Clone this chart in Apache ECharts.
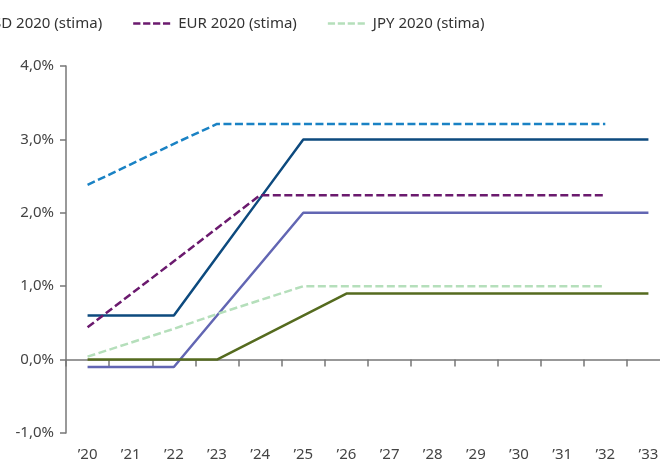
<!DOCTYPE html>
<html>
<head>
<meta charset="utf-8">
<script src="https://cdn.jsdelivr.net/npm/echarts@6/dist/echarts.min.js"></script>
<style>
  html, body { margin: 0; padding: 0; background: #fff; }
  #chart { width: 660px; height: 464px; }
</style>
</head>
<body>
<div id="chart"></div>
<script>
const years = ["’20", "’21", "’22", "’23", "’24", "’25", "’26", "’27", "’28", "’29", "’30", "’31", "’32", "’33"];

// dashed: 2020 estimates
const usd2020 = [2.38, 2.66, 2.94, 3.21, 3.21, 3.21, 3.21, 3.21, 3.21, 3.21, 3.21, 3.21, 3.21, null];
const eur2020 = [0.44, 0.89, 1.34, 1.79, 2.24, 2.24, 2.24, 2.24, 2.24, 2.24, 2.24, 2.24, 2.24, null];
const jpy2020 = [0.04, 0.23, 0.42, 0.62, 0.81, 1.0, 1.0, 1.0, 1.0, 1.0, 1.0, 1.0, 1.0, null];

// solid: current estimates
const usdNow = [0.6, 0.6, 0.6, 1.4, 2.2, 3.0, 3.0, 3.0, 3.0, 3.0, 3.0, 3.0, 3.0, 3.0];
const eurNow = [-0.1, -0.1, -0.1, 0.6, 1.3, 2.0, 2.0, 2.0, 2.0, 2.0, 2.0, 2.0, 2.0, 2.0];
const jpyNow = [0.0, 0.0, 0.0, 0.0, 0.3, 0.6, 0.9, 0.9, 0.9, 0.9, 0.9, 0.9, 0.9, 0.9];

const font = "Noto Sans";
const dash = [8, 3.5];
// four short dashes for the legend swatch
const dashIcon = "path://M0,0h8v3h-8z M11,0h8v3h-8z M22,0h8v3h-8z M33,0h8v3h-8z";

function line(name, data, color, dashed) {
  return {
    name: name,
    type: "line",
    data: data,
    symbol: "none",
    xAxisIndex: 0,
    lineStyle: { color: color, width: 2.5, type: dashed ? dash : "solid" },
    itemStyle: { color: color },
    z: dashed ? 3 : 2
  };
}

const chart = echarts.init(document.getElementById("chart"));

chart.setOption({
  animation: false,
  textStyle: { fontFamily: font },
  legend: {
    data: ["USD 2020 (stima)", "EUR 2020 (stima)", "JPY 2020 (stima)"],
    icon: dashIcon,
    left: -68,
    top: 11,
    itemWidth: 37,
    itemHeight: 3,
    itemGap: 31,
    textStyle: { fontFamily: font, fontSize: 15, color: "#333", padding: [0, 0, 0, 3] }
  },
  grid: { left: 66, width: 604, top: 66, bottom: 31, outerBoundsMode: "none", containLabel: false },
  xAxis: [
    {
      type: "category",
      data: years,
      position: "bottom",
      axisLine: { show: false, onZero: false },
      axisTick: { show: false },
      axisLabel: { fontFamily: font, fontSize: 15, color: "#444", margin: 14 }
    },
    {
      type: "category",
      data: years,
      position: "bottom",
      axisLine: { onZero: true, onZeroAxisIndex: 0, lineStyle: { color: "#777", width: 1.5 } },
      axisTick: { show: true, length: 7, lineStyle: { color: "#777", width: 1.5 } },
      axisLabel: { show: false }
    }
  ],
  yAxis: {
    type: "value",
    min: -1,
    max: 4,
    interval: 1,
    axisLine: { show: true, onZero: false, lineStyle: { color: "#777", width: 1.5 } },
    axisTick: { show: true, length: 6, lineStyle: { color: "#777", width: 1.5 } },
    splitLine: { show: false },
    axisLabel: {
      fontFamily: font,
      fontSize: 15,
      color: "#444",
      margin: 12,
      formatter: v => v.toFixed(1).replace(".", ",") + "%"
    }
  },
  series: [
    line("USD 2020 (stima)", usd2020, "#1a82c4", true),
    line("EUR 2020 (stima)", eur2020, "#6b1a6e", true),
    line("JPY 2020 (stima)", jpy2020, "#b5dfbb", true),
    line("USD", usdNow, "#0d4a7e", false),
    line("EUR", eurNow, "#6266b3", false),
    line("JPY", jpyNow, "#556b1f", false)
  ]
});
</script>
</body>
</html>
